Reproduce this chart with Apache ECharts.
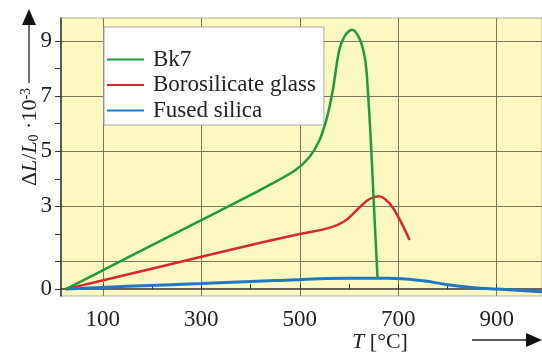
<!DOCTYPE html>
<html>
<head>
<meta charset="utf-8">
<script src="https://cdn.jsdelivr.net/npm/echarts@6/dist/echarts.min.js"></script>
<style>
html, body { margin: 0; padding: 0; background: #fff; }
#main { width: 542px; height: 354px; }
</style>
</head>
<body>
<div id="main"></div>
<script>
// names of the three curves
var names = ['Bk7', 'Borosilicate glass', 'Fused silica'];

// Bk7
var bk7T = [25, 150, 300, 420, 490, 520, 540, 555, 567, 580, 592, 606, 618, 629, 635, 639, 644, 648, 654, 658];
var bk7Y = [0, 1.14, 2.5, 3.6, 4.3, 4.8, 5.4, 6.2, 7.2, 8.65, 9.2, 9.4, 9.2, 8.67, 8.0, 7.0, 5.5, 4.0, 1.8, 0.4];

// Borosilicate glass
var boroT = [25, 150, 300, 420, 500, 560, 590, 615, 640, 660, 680, 700, 723];
var boroY = [0, 0.53, 1.17, 1.68, 2.0, 2.22, 2.45, 2.85, 3.25, 3.37, 3.15, 2.62, 1.78];

// Fused silica
var fusedT = [25, 150, 300, 450, 600, 680, 750, 800, 850, 900, 1000];
var fusedY = [0, 0.1, 0.2, 0.31, 0.39, 0.39, 0.3, 0.16, 0.06, 0, -0.1];

// ticks
var xTicks = [100, 200, 300, 400, 500, 600, 700, 800, 900];
var xLabels = [100, 300, 500, 700, 900];
var yTicks = [0, 1, 2, 3, 4, 5, 6, 7, 8, 9];
var yLabels = [0, 3, 5, 7, 9];
var yGrid = [1, 3, 5, 7, 9];

function zip(a, b) {
    return a.map(function (v, i) { return [v, b[i]]; });
}

var font = 'Liberation Serif';
var myChart = echarts.init(document.getElementById('main'));

var option = {
    animation: false,
    grid: {
        left: 61, right: 0, top: 18, bottom: 58,
        show: true,
        backgroundColor: '#fcf8c2',
        borderColor: '#b0ad90',
        borderWidth: 1
    },
    legend: {
        data: names,
        orient: 'vertical',
        left: 104,
        top: 27,
        padding: [21, 8, 3, 3],
        itemGap: 2.5,
        itemWidth: 37,
        itemHeight: 2,
        icon: 'rect',
        backgroundColor: '#fff',
        borderColor: '#aaa',
        borderWidth: 1,
        textStyle: {
            fontFamily: font,
            fontSize: 23,
            color: '#222',
            lineHeight: 23,
            padding: [0, 0, 0, 4]
        }
    },
    xAxis: [
        {
            type: 'value', min: 15, max: 992,
            axisLine: { lineStyle: { color: '#333', width: 1.5 } },
            axisTick: { customValues: xTicks, inside: true, length: 5, lineStyle: { color: '#333' } },
            axisLabel: { customValues: xLabels, margin: 12, fontFamily: font, fontSize: 23, color: '#222' },
            splitLine: { show: false }
        },
        {
            type: 'value', min: 15, max: 992, position: 'bottom',
            axisLine: { show: false },
            axisTick: { show: false, customValues: xLabels },
            axisLabel: { show: false },
            splitLine: { show: true, lineStyle: { color: '#7a7860', width: 1 } }
        }
    ],
    yAxis: [
        {
            type: 'value', min: -0.25, max: 9.83,
            axisLine: { show: true, lineStyle: { color: '#333', width: 1.5 } },
            axisTick: { show: true, customValues: yTicks, length: 6, lineStyle: { color: '#333' } },
            axisLabel: { customValues: yLabels, margin: 9, fontFamily: font, fontSize: 23, color: '#222' },
            splitLine: { show: false }
        },
        {
            type: 'value', min: -0.25, max: 9.83, position: 'left',
            axisLine: { show: false },
            axisTick: { show: false, customValues: yGrid },
            axisLabel: { show: false },
            splitLine: { show: true, lineStyle: { color: '#7a7860', width: 1 } }
        }
    ],
    series: [
        {
            name: names[0], type: 'line', data: zip(bk7T, bk7Y),
            smooth: 0.3, showSymbol: false, z: 4,
            color: '#1e9a3f', lineStyle: { width: 2.5 }
        },
        {
            name: names[1], type: 'line', data: zip(boroT, boroY),
            smooth: 0.4, showSymbol: false, z: 3,
            color: '#d6282d', lineStyle: { width: 2.5 }
        },
        {
            name: names[2], type: 'line', data: zip(fusedT, fusedY),
            smooth: 0.4, showSymbol: false, z: 3,
            color: '#1f79c2', lineStyle: { width: 3 }
        }
    ],
    graphic: [
        // y axis name with arrow
        {
            type: 'text', x: 30, y: 137, rotation: Math.PI / 2,
            style: {
                text: '{n|Δ}{i|L}{n|/}{i|L}{s|0}{n| ·10}{p|-3}',
                align: 'center', verticalAlign: 'middle', fill: '#222',
                rich: {
                    n: { fontFamily: font, fontSize: 22, fill: '#222' },
                    i: { fontFamily: font, fontSize: 22, fontStyle: 'italic', fill: '#222' },
                    s: { fontFamily: font, fontSize: 14, verticalAlign: 'bottom', fill: '#222' },
                    p: { fontFamily: font, fontSize: 14, verticalAlign: 'top', fill: '#222' }
                }
            }
        },
        { type: 'line', shape: { x1: 29, y1: 83, x2: 29, y2: 22 }, style: { stroke: '#222', lineWidth: 1.3 } },
        { type: 'polygon', shape: { points: [[29, 9], [22, 25], [36, 25]] }, style: { fill: '#111' } },
        // x axis name with arrow
        {
            type: 'text', x: 380, y: 342,
            style: {
                text: '{i|T}{n| [°C]}',
                align: 'center', verticalAlign: 'middle', fill: '#222',
                rich: {
                    n: { fontFamily: font, fontSize: 22, fill: '#222' },
                    i: { fontFamily: font, fontSize: 22, fontStyle: 'italic', fill: '#222' }
                }
            }
        },
        { type: 'line', shape: { x1: 472, y1: 340, x2: 530, y2: 340 }, style: { stroke: '#222', lineWidth: 1.3 } },
        { type: 'polygon', shape: { points: [[542, 340], [526, 333], [526, 347]] }, style: { fill: '#111' } }
    ]
};

myChart.setOption(option);
</script>
</body>
</html>
